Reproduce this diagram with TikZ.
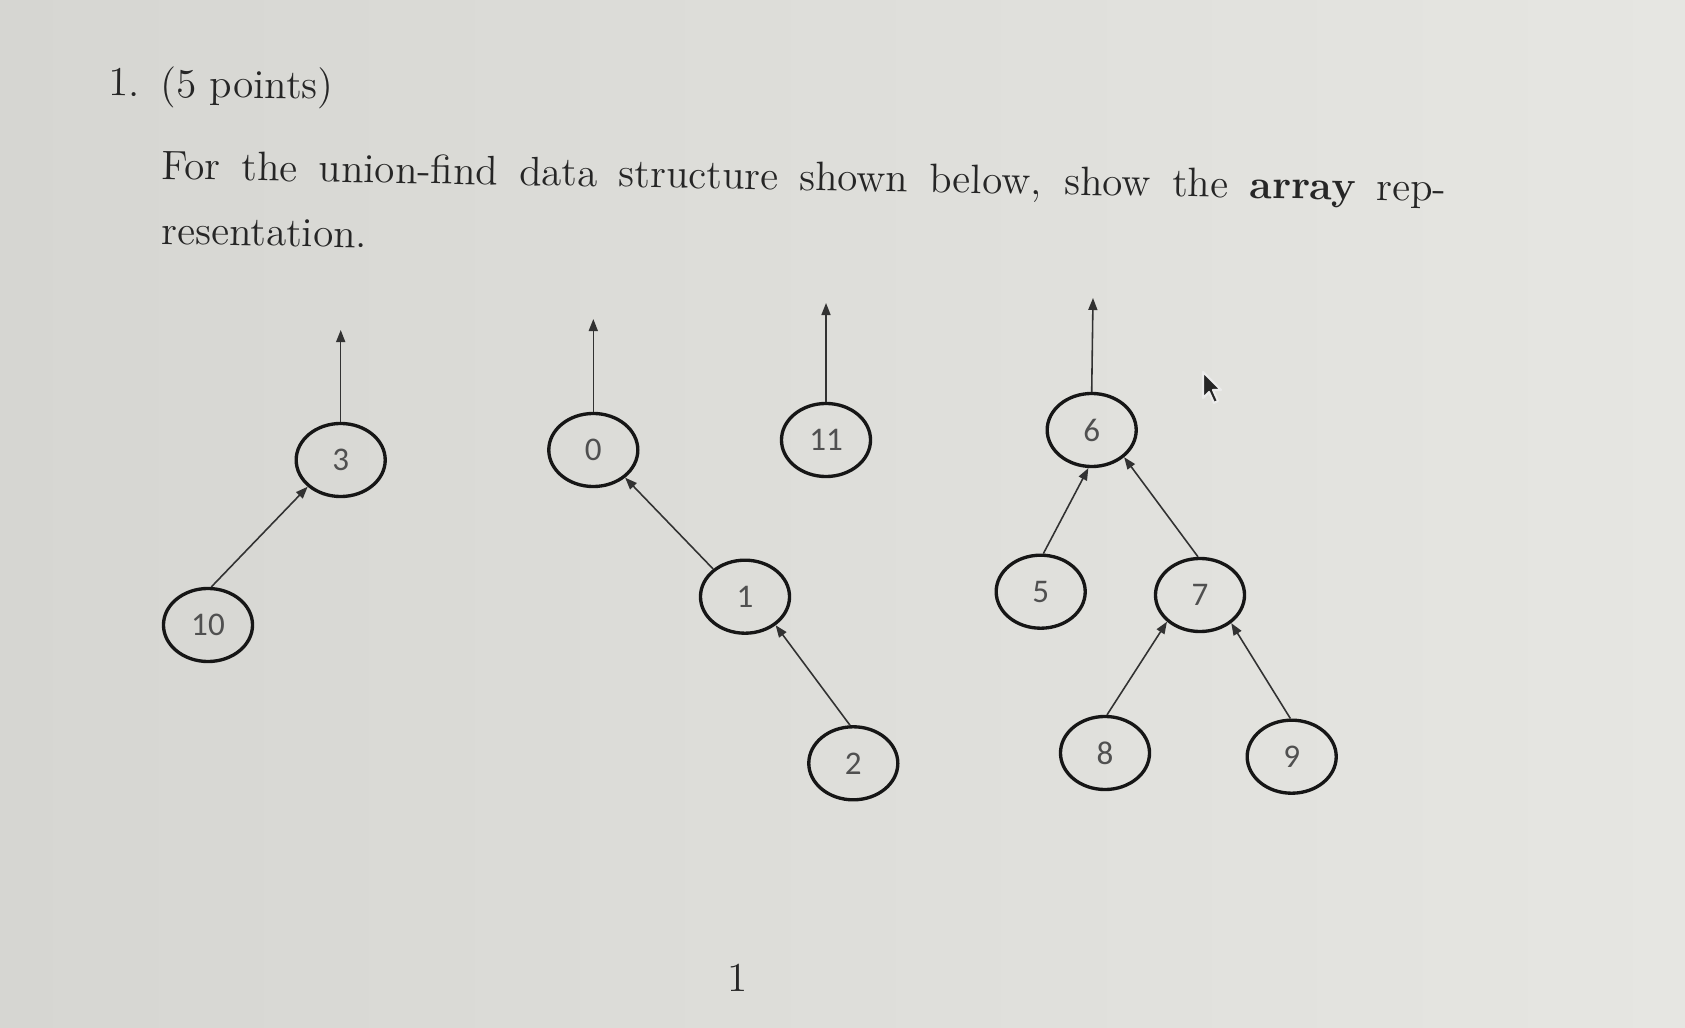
\documentclass[tikz,border=0pt]{standalone}
\usepackage{fontspec}
\newfontfamily\labfont{Carlito}
\usetikzlibrary{arrows.meta,shapes.geometric}
\definecolor{paperL}{RGB}{214,214,210}
\definecolor{paperR}{RGB}{230,230,226}
\definecolor{ink}{RGB}{38,38,38}
\definecolor{nodeline}{RGB}{22,22,22}
\definecolor{edgecol}{RGB}{50,50,50}
\definecolor{labcol}{RGB}{80,80,80}
\tikzset{
  uf/.style={ellipse, draw=nodeline, line width=0.95pt, minimum width=0.89cm,
    minimum height=0.73cm, inner sep=0pt, text=labcol,
    font=\labfont\fontsize{9.4}{10}\selectfont},
  link/.style={draw=edgecol, line width=0.45pt,
    -{Triangle[length=1.2mm,width=0.9mm]}},
  txt/.style={inner sep=0pt, text=ink, anchor=base west,
    font=\fontsize{11.7}{13}\selectfont, rotate=-1.0},
}
\begin{document}
\begin{tikzpicture}[x=0.01cm,y=-0.01cm]
\useasboundingbox (0,0) rectangle (1685,1028);
\shade[left color=paperL, right color=paperR] (0,0) rectangle (1685,1028);

% text
\node[txt, rotate=0.3] (num) at (108,96) {1.};
\node[txt, rotate=0.3] (pts) at (160,97) {(5 points)};
\node[txt] (line1) at (161,179) {\makebox[12.84cm][s]{For the union-find data structure shown below, show the \textbf{array} rep-}};
\node[txt] (line2) at (161,244) {resentation.};
\node[txt, rotate=1.0] (page) at (727,991) {1};

% nodes
\node[uf] (n3)  at (340.7,460) {3};
\node[uf] (n10) at (208,625) {10};
\node[uf] (n0)  at (593.3,450) {0};
\node[uf] (n11) at (826,440) {11};
\node[uf] (n1)  at (745,596.7) {1};
\node[uf] (n2)  at (853.3,763.3) {2};
\node[uf] (n6)  at (1091.7,430) {6};
\node[uf] (n5)  at (1040.7,591.7) {5};
\node[uf] (n7)  at (1200,595) {7};
\node[uf] (n8)  at (1105,753) {8};
\node[uf] (n9)  at (1291.7,756.7) {9};

% root pointers
\coordinate (t3)  at (340.7,330);
\coordinate (t0)  at (593.3,319);
\coordinate (t11) at (826,303);
\coordinate (t6)  at (1093,298);
\draw[link] (n3.north) -- (t3);
\draw[link] (n0.north) -- (t0);
\draw[link] (n11.north) -- (t11);
\draw[link] (n6.north) -- (t6);

% parent links
\draw[link] (n10.85) -- (n3.219);
\draw[link] (n1.139) -- (n0.319);
\draw[link] (n2.95) -- (n1.317);
\draw[link] (n5.86) -- (n6.265);
\draw[link] (n7.93) -- (n6.320);
\draw[link] (n8.87) -- (n7.219);
\draw[link] (n9.92) -- (n7.318);

% mouse pointer in the photo
\filldraw[fill=ink, draw=white!85!gray, line width=0.6pt, line join=round]
  (1203,372) -- (1203,398) -- (1209,392) -- (1214,403) -- (1218,401) -- (1213,390) -- (1221,390) -- cycle;
\end{tikzpicture}
\end{document}
